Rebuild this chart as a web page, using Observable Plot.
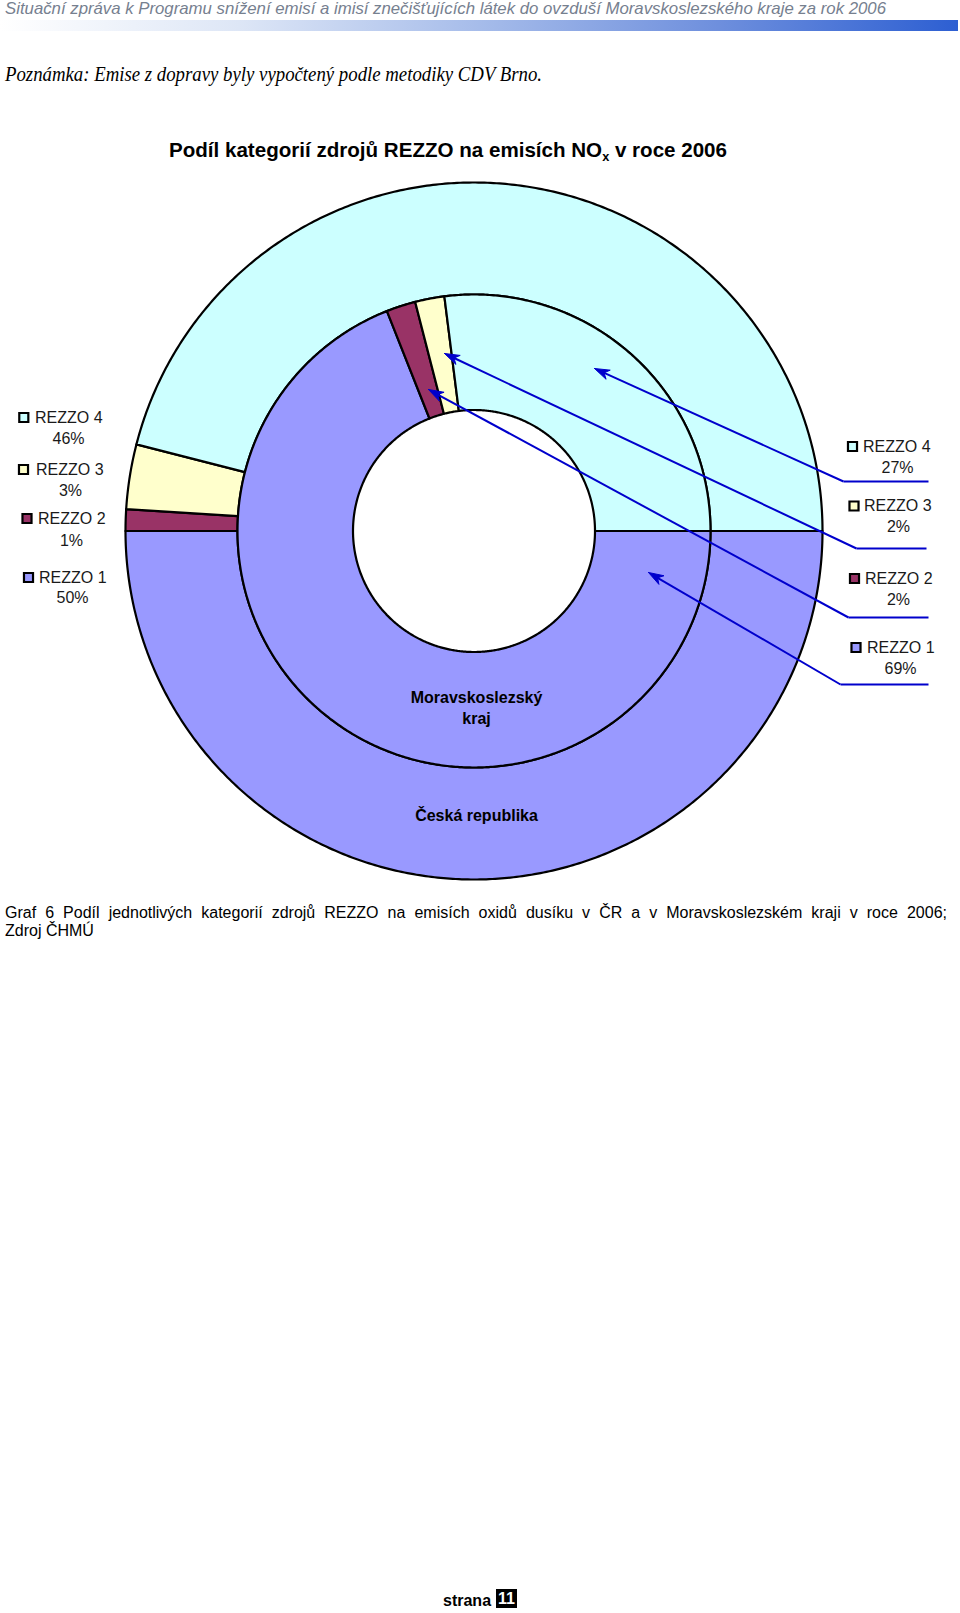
<!DOCTYPE html>
<html><head><meta charset="utf-8">
<script src="https://cdn.jsdelivr.net/npm/d3@7"></script>
<script src="https://cdn.jsdelivr.net/npm/@observablehq/plot@0.6"></script>
<style>
body{margin:0;background:#fff;width:960px;height:1613px;position:relative;overflow:hidden;font-family:"Liberation Sans",Arial,sans-serif;}
.abs{position:absolute;white-space:nowrap;line-height:1;}
#hdr{left:5px;top:0px;font:italic 17px "Liberation Sans Narrow","Liberation Sans",Arial,sans-serif;color:#76808f;transform-origin:0 0;line-height:1;}
#bar{left:0;top:20px;width:958px;height:11px;background:linear-gradient(to right,#ffffff 0%,#dde6f6 25%,#a6bcea 50%,#6e8fdd 75%,#2d5fd2 100%);}
#note{left:5px;top:63px;font:italic 20px "Liberation Serif","Times New Roman",serif;color:#000;transform-origin:0 0;}
#title{left:169px;top:138px;font:bold 21px "Liberation Sans",Arial,sans-serif;color:#000;transform-origin:0 0;}
#title sub{font-size:13px;vertical-align:-4px;line-height:0;}
#chart{left:0;top:170px;}
#cap1{left:5px;top:904px;font:16px "Liberation Sans",Arial,sans-serif;color:#000;}
#cap2{left:5px;top:922px;font:16px "Liberation Sans",Arial,sans-serif;color:#000;}
#page{left:443px;top:1592px;font:bold 16px "Liberation Sans",Arial,sans-serif;color:#000;}
#pnum{left:496px;top:1589px;width:21px;height:19px;background:#000;color:#fff;font:bold 16px "Liberation Sans",Arial,sans-serif;text-align:center;line-height:19px;}
</style>
</head>
<body>
<div id="hdr" class="abs">Situační zpráva k Programu snížení emisí a imisí znečišťujících látek do ovzduší Moravskoslezského kraje za rok 2006</div>
<div id="bar" class="abs"></div>
<div id="note" class="abs">Poznámka: Emise z dopravy byly vypočtený podle metodiky CDV Brno.</div>
<div id="title" class="abs">Podíl kategorií zdrojů REZZO na emisích NO<sub>x</sub> v roce 2006</div>
<div id="chart" class="abs"></div>
<div id="cap1" class="abs">Graf 6 Podíl jednotlivých kategorií zdrojů REZZO na emisích oxidů dusíku v ČR a v Moravskoslezském kraji v roce 2006;</div>
<div id="cap2" class="abs">Zdroj ČHMÚ</div>
<div id="page" class="abs">strana</div>
<div id="pnum" class="abs">11</div>
<script>
// ---- data ----
const categories = ["REZZO 1", "REZZO 2", "REZZO 3", "REZZO 4"];
const crShares  = [50, 1, 3, 46];   // Česká republika (outer ring)
const mskShares = [69, 2, 2, 27];   // Moravskoslezský kraj (inner ring)
const colors = ["#9999FF", "#993366", "#FFFFCC", "#CCFFFF"];
const ringNames = ["Česká republika", "Moravskoslezský kraj"];

// ---- layout (page pixels) ----
const cx = 473.5, cy = 530.5, svgTop = 170, W = 960, H = 720;
const R_OUT = 348.5, R_MID = 236.5, R_IN = 121;
const ux = px => px - cx, uy = py => cy - py;
const leftLayout = {
  sq: [[28, 577], [26.5, 518], [23, 469], [23.3, 417]],
  tx: [38.5, 37.5, 35.5, 34.5],
  pc: [[72, 597], [71, 540], [70, 490], [68, 438]]
};
const rightLayout = {
  sq: [[855.5, 647], [854, 578], [853.5, 505.5], [852, 446]],
  tx: [866.5, 864.5, 863.5, 862.5],
  pc: [[900, 668], [898, 599], [898, 526], [897, 467]],
  under: [[840, 928, 684], [848, 928, 617], [856, 926, 548], [843, 928, 481]],
  target: [[648, 572], [428, 389], [444, 353], [594, 368]]
};

function ring(shares, r0, r1, name) {
  const total = d3.sum(shares);
  let acc = 0;
  const pts = [];
  const rad = a => a * Math.PI / 180;
  shares.forEach((v, i) => {
    const a0 = 90 + acc / total * 360, a1 = 90 + (acc + v) / total * 360;
    acc += v;
    const key = name + i;
    const n = Math.max(2, Math.ceil((a1 - a0) / 0.5));
    const arc = d3.range(n + 1).map(k => a0 + (a1 - a0) * k / n);
    const start = pts.length;
    for (const a of arc) pts.push({key, cat: categories[i], x: r1 * Math.sin(rad(a)), y: r1 * Math.cos(rad(a))});
    for (const a of arc.slice().reverse()) pts.push({key, cat: categories[i], x: r0 * Math.sin(rad(a)), y: r0 * Math.cos(rad(a))});
    pts.push({...pts[start]});
  });
  return pts;
}
const ringPts = [...ring(crShares, R_MID, R_OUT, ringNames[0]), ...ring(mskShares, R_IN, R_MID, ringNames[1])];

const leftLegend = categories.map((c, i) => ({
  cat: c, share: crShares[i],
  sx: ux(leftLayout.sq[i][0]), sy: uy(leftLayout.sq[i][1]),
  tx: ux(leftLayout.tx[i]), ty: uy(leftLayout.sq[i][1]),
  px: ux(leftLayout.pc[i][0]), py: uy(leftLayout.pc[i][1])
}));
const rightLegend = categories.map((c, i) => ({
  cat: c, share: mskShares[i],
  sx: ux(rightLayout.sq[i][0]), sy: uy(rightLayout.sq[i][1]),
  tx: ux(rightLayout.tx[i]), ty: uy(rightLayout.sq[i][1]),
  px: ux(rightLayout.pc[i][0]), py: uy(rightLayout.pc[i][1]),
  ux1: ux(rightLayout.under[i][0]), ux2: ux(rightLayout.under[i][1]), uy: uy(rightLayout.under[i][2]),
  ax: ux(rightLayout.target[i][0]), ay: uy(rightLayout.target[i][1])
}));
const legend = [...leftLegend, ...rightLegend];

// filled arrowheads (polygon per arrow, derived from each arrow's direction)
const headPts = [];
rightLegend.forEach(d => {
  const dx = d.ux1 - d.ax, dy = d.uy - d.ay, len = Math.hypot(dx, dy);
  const ex = dx / len, ey = dy / len, nx = -ey, ny = ex;
  const L = 15, w = 5;
  const p = [
    [d.ax, d.ay],
    [d.ax + L * ex + w * nx, d.ay + L * ey + w * ny],
    [d.ax + 0.7 * L * ex, d.ay + 0.7 * L * ey],
    [d.ax + L * ex - w * nx, d.ay + L * ey - w * ny],
    [d.ax, d.ay]
  ];
  p.forEach(([x, y]) => headPts.push({key: d.cat, x, y}));
});

const ringLabels = [
  {text: "Moravskoslezský\nkraj", x: ux(476), y: uy(706.5)},
  {text: "Česká republika", x: ux(476), y: uy(814)}
];

const blue = "#0000CC";
const chart = Plot.plot({
  width: W, height: H, margin: 0,
  x: {domain: [-cx, W - cx], axis: null},
  y: {domain: [cy - (svgTop + H), cy - svgTop], axis: null},
  color: {domain: categories, range: colors},
  style: {fontFamily: "'Liberation Sans', Arial, sans-serif", background: "transparent", overflow: "visible"},
  marks: [
    Plot.line(ringPts, {x: "x", y: "y", z: "key", fill: "cat", stroke: "#000", strokeWidth: 2.2, strokeLinejoin: "round", curve: "linear"}),
    Plot.text(ringLabels, {x: "x", y: "y", text: "text", fontSize: 16, fontWeight: "bold", fill: "#000", lineHeight: 1.3}),
    Plot.link(rightLegend, {x1: "ux1", x2: "ux2", y1: "uy", y2: "uy", stroke: blue, strokeWidth: 2}),
    Plot.link(rightLegend, {x1: "ux1", y1: "uy", x2: d => d.ax + 10 * (d.ux1 - d.ax) / Math.hypot(d.ux1 - d.ax, d.uy - d.ay), y2: d => d.ay + 10 * (d.uy - d.ay) / Math.hypot(d.ux1 - d.ax, d.uy - d.ay), stroke: blue, strokeWidth: 2}),
    Plot.line(headPts, {x: "x", y: "y", z: "key", fill: blue, stroke: blue, strokeWidth: 1, strokeLinejoin: "miter"}),
    Plot.dot(legend, {x: "sx", y: "sy", symbol: "square", r: 5.1, fill: "cat", stroke: "#000", strokeWidth: 2.2}),
    Plot.text(legend, {x: "tx", y: "ty", text: "cat", textAnchor: "start", fontSize: 16, fill: "#1a1a1a"}),
    Plot.text(legend, {x: "px", y: "py", text: d => d.share + "%", fontSize: 16, fill: "#1a1a1a"})
  ]
});
document.getElementById("chart").appendChild(chart);

// fit text widths of page texts to the reference
function fitW(id, target) {
  const el = document.getElementById(id);
  const w = el.getBoundingClientRect().width;
  el.style.transform = `scaleX(${target / w})`;
}
fitW("hdr", 881);
fitW("note", 537);
fitW("title", 558);
(function () {
  const el = document.getElementById("cap1");
  const w = el.getBoundingClientRect().width;
  const n = (el.textContent.match(/ /g) || []).length;
  if (w < 942) el.style.wordSpacing = ((942 - w) / n) + "px";
  else el.style.transform = `scaleX(${942 / w})`, el.style.transformOrigin = "0 0";
})();
</script>
</body></html>
